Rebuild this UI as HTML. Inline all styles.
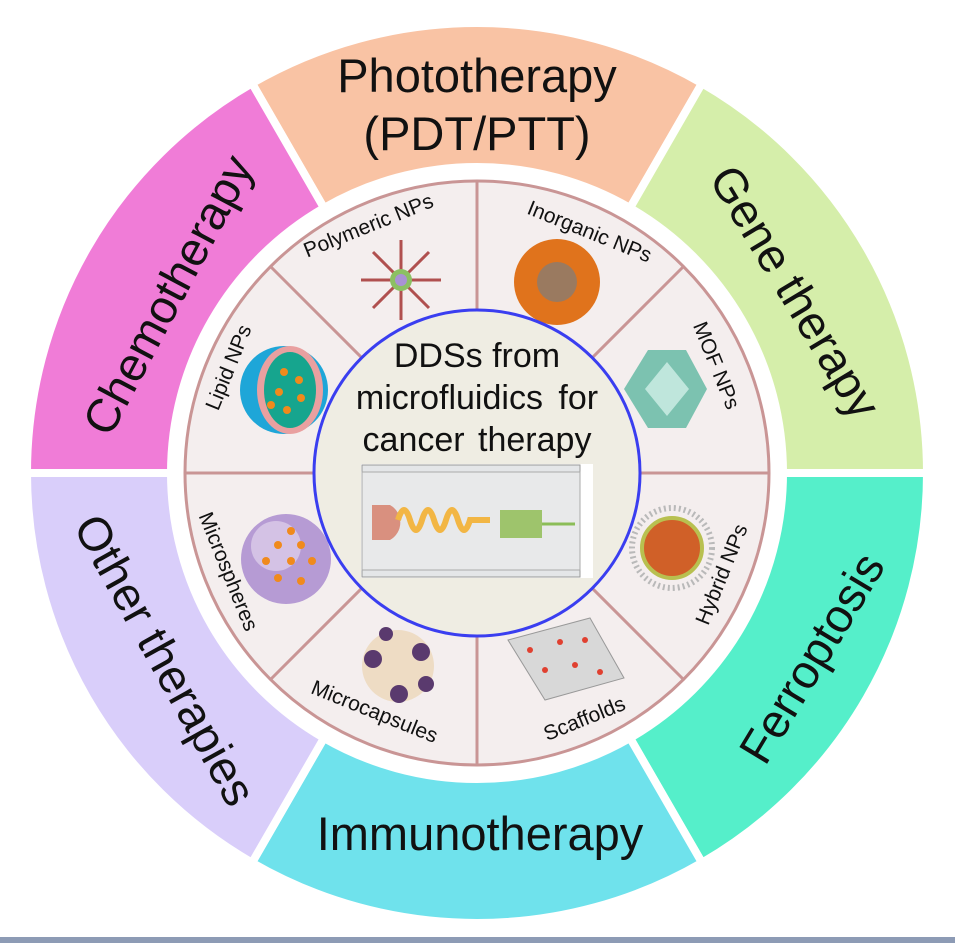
<!DOCTYPE html>
<html><head><meta charset="utf-8"><style>
html,body{margin:0;padding:0;background:#fff;}
svg{display:block;font-family:"Liberation Sans",Arial,sans-serif;}
</style></head><body>
<svg width="955" height="943" viewBox="0 0 955 943" xmlns="http://www.w3.org/2000/svg">
<rect width="955" height="943" fill="#fff"/>
<rect x="0" y="937" width="955" height="6" fill="#8d9bb5"/>
<g stroke="#fff" stroke-width="8" stroke-linejoin="miter">
<path d="M252,83.3 A450,450 0 0 1 702,83.3 L630,208 A306,306 0 0 0 324,208 Z" fill="#f9c3a4"/>
<path d="M702,83.3 A450,450 0 0 1 927,473 L783,473 A306,306 0 0 0 630,208 Z" fill="#d5eeaa"/>
<path d="M927,473 A450,450 0 0 1 702,862.7 L630,738 A306,306 0 0 0 783,473 Z" fill="#55efca"/>
<path d="M702,862.7 A450,450 0 0 1 252,862.7 L324,738 A306,306 0 0 0 630,738 Z" fill="#6fe2ec"/>
<path d="M252,862.7 A450,450 0 0 1 27,473 L171,473 A306,306 0 0 0 324,738 Z" fill="#d9cefa"/>
<path d="M27,473 A450,450 0 0 1 252,83.3 L324,208 A306,306 0 0 0 171,473 Z" fill="#f07cd7"/>
</g>
<g font-size="47" fill="#111" text-anchor="middle">
<text x="477" y="92">Phototherapy</text>
<text x="477" y="150">(PDT/PTT)</text>
<text transform="translate(168,295) rotate(-62)" x="0" y="16">Chemotherapy</text>
<text transform="translate(795,292) rotate(59)" x="0" y="16">Gene therapy</text>
<text transform="translate(812,658) rotate(-59)" x="0" y="16">Ferroptosis</text>
<text transform="translate(165,660) rotate(61)" x="0" y="16">Other therapies</text>
<text x="480" y="850">Immunotherapy</text>
</g>
<circle cx="477" cy="473" r="292" fill="#f4eeee" stroke="#c99595" stroke-width="3"/>
<g stroke="#c99595" stroke-width="3">
<line x1="640" y1="473" x2="769" y2="473"/>
<line x1="592.3" y1="588.3" x2="683.5" y2="679.5"/>
<line x1="477" y1="636" x2="477" y2="765"/>
<line x1="361.7" y1="588.3" x2="270.5" y2="679.5"/>
<line x1="314" y1="473" x2="185" y2="473"/>
<line x1="361.7" y1="357.7" x2="270.5" y2="266.5"/>
<line x1="477" y1="310" x2="477" y2="181"/>
<line x1="592.3" y1="357.7" x2="683.5" y2="266.5"/>
</g>
<!-- icons -->
<g stroke="#b0504f" stroke-width="3">
<line x1="401" y1="280" x2="401" y2="240"/><line x1="401" y1="280" x2="401" y2="320"/>
<line x1="401" y1="280" x2="361" y2="280"/><line x1="401" y1="280" x2="441" y2="280"/>
<line x1="401" y1="280" x2="373" y2="252"/><line x1="401" y1="280" x2="429" y2="252"/>
<line x1="401" y1="280" x2="373" y2="308"/><line x1="401" y1="280" x2="429" y2="308"/>
</g>
<circle cx="401" cy="280" r="11" fill="#8cc063"/><circle cx="401" cy="280" r="6" fill="#a992d4"/>
<circle cx="557" cy="282" r="43" fill="#e0731c"/><circle cx="557" cy="282" r="20" fill="#9a7a60"/>
<circle cx="284" cy="390" r="44" fill="#1ea6d8"/><ellipse cx="290" cy="390" rx="33" ry="44" fill="#e9a0a0"/><ellipse cx="290" cy="390" rx="26" ry="38" fill="#16a58e"/>
<g fill="#f08a1c"><circle cx="284" cy="372" r="4"/><circle cx="299" cy="380" r="4"/><circle cx="279" cy="392" r="4"/><circle cx="301" cy="398" r="4"/><circle cx="287" cy="410" r="4"/><circle cx="271" cy="405" r="4"/></g>
<polygon points="648,350 686,350 707,389 686,428 648,428 624,389" fill="#7cc2b0"/><polygon points="667,362 689,389 667,416 645,389" fill="#bfe6dc"/>
<circle cx="286" cy="559" r="45" fill="#b69bd4"/><circle cx="276" cy="546" r="25" fill="#e8dcf0" opacity="0.6"/>
<g fill="#f08a1c"><circle cx="291" cy="531" r="4"/><circle cx="278" cy="545" r="4"/><circle cx="301" cy="545" r="4"/><circle cx="266" cy="561" r="4"/><circle cx="291" cy="561" r="4"/><circle cx="312" cy="561" r="4"/><circle cx="278" cy="578" r="4"/><circle cx="301" cy="581" r="4"/></g>
<circle cx="672" cy="548" r="40" fill="none" stroke="#b9b9b9" stroke-width="6" stroke-dasharray="2 3"/><circle cx="672" cy="548" r="30" fill="#d06028"/><circle cx="672" cy="548" r="30" fill="none" stroke="#b8c050" stroke-width="4"/>
<circle cx="398" cy="666" r="36" fill="#eedcc4"/><g fill="#5a3a6e"><circle cx="373" cy="659" r="9"/><circle cx="421" cy="652" r="9"/><circle cx="399" cy="694" r="9"/><circle cx="386" cy="634" r="7"/><circle cx="426" cy="684" r="8"/></g>
<polygon points="508,640 590,618 624,678 545,700" fill="#d8d8d8" stroke="#999"/><g fill="#e04030"><circle cx="530" cy="650" r="3"/><circle cx="560" cy="642" r="3"/><circle cx="585" cy="640" r="3"/><circle cx="545" cy="670" r="3"/><circle cx="575" cy="665" r="3"/><circle cx="600" cy="672" r="3"/></g>
<g font-size="21" fill="#111" text-anchor="middle">
<text transform="translate(371,232) rotate(-22)">Polymeric NPs</text>
<text transform="translate(587,238) rotate(22)">Inorganic NPs</text>
<text transform="translate(235,370) rotate(-68)">Lipid NPs</text>
<text transform="translate(710,368) rotate(68)">MOF NPs</text>
<text transform="translate(222,574) rotate(68)">Microspheres</text>
<text transform="translate(728,577) rotate(-68)">Hybrid NPs</text>
<text transform="translate(372,718) rotate(22)">Microcapsules</text>
<text transform="translate(587,725) rotate(-22)">Scaffolds</text>
</g>
<circle cx="477" cy="473" r="163" fill="#efede3" stroke="#3a3ef0" stroke-width="3"/>
<g font-size="34" fill="#111" text-anchor="middle">
<text x="477" y="367">DDSs from</text>
<text x="477" y="409" word-spacing="6">microfluidics for</text>
<text x="477" y="451" word-spacing="4">cancer therapy</text>
</g>
<rect x="361" y="464" width="232" height="114" fill="#fff"/>
<rect x="362" y="465" width="218" height="112" fill="#e4e6e8" stroke="#999"/>
<rect x="362" y="472" width="218" height="98" fill="#e8e9ea" stroke="#aaa"/>
<path d="M372,505 v35 h18 a20,20 0 0 0 0,-35 z" fill="#d9907f"/>
<path d="M398,520 q6,-20 12,0 q6,20 12,0 q6,-20 12,0 q6,20 12,0 q6,-20 12,0 q6,20 12,0 h20" fill="none" stroke="#f2b644" stroke-width="6"/>
<rect x="500" y="510" width="42" height="28" fill="#9ec46c"/><line x1="542" y1="524" x2="575" y2="524" stroke="#8bbd58" stroke-width="3"/>
</svg>
</body></html>
